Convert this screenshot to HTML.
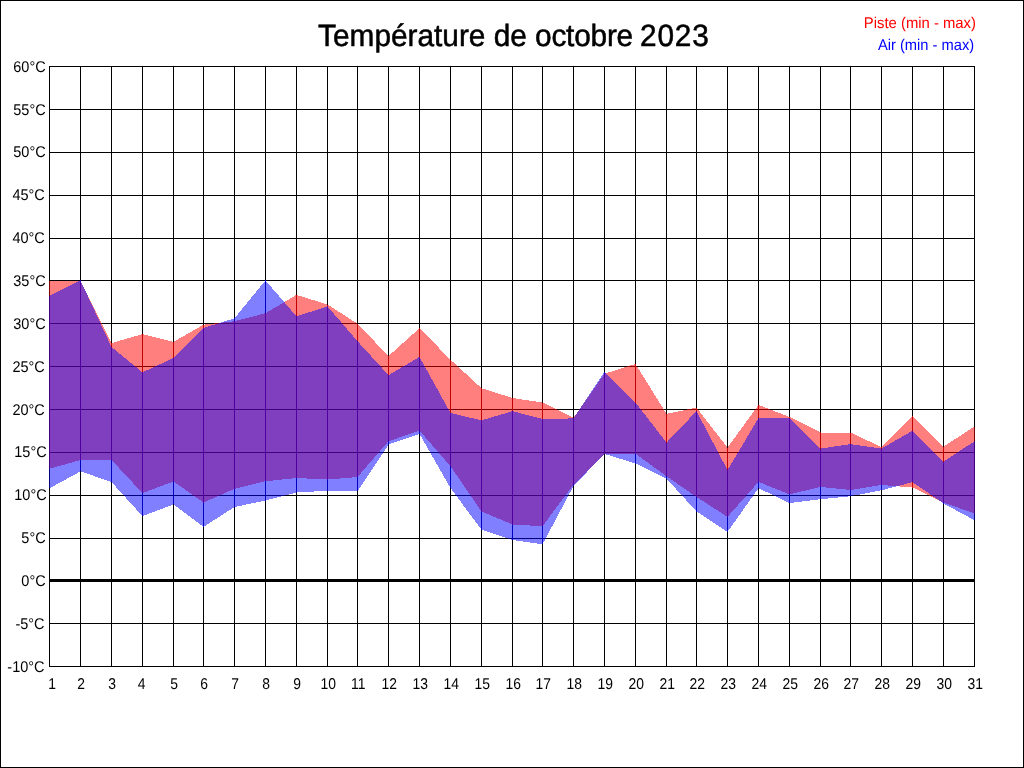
<!DOCTYPE html>
<html lang="fr">
<head>
<meta charset="utf-8">
<title>Température de octobre 2023</title>
<style>
html,body{margin:0;padding:0;background:#fff;}
body{width:1024px;height:768px;overflow:hidden;}
svg{display:block;}
text{font-family:"Liberation Sans",sans-serif;text-rendering:geometricPrecision;}
.yl{font-size:14.5px;fill:#000;text-anchor:end;}
.xl{font-size:13.9px;fill:#000;text-anchor:middle;}
.lg{font-size:14.85px;text-anchor:end;}
.tt{font-size:29.8px;fill:#000;text-anchor:start;stroke:#000;stroke-width:0.5px;}
</style>
</head>
<body>
<svg width="1024" height="768" viewBox="0 0 1024 768">
<rect x="0" y="0" width="1024" height="768" fill="#fff"/>
<g shape-rendering="crispEdges">
<rect x="0.5" y="0.5" width="1023" height="767" fill="none" stroke="#000" stroke-width="1"/>
<g fill="#000">
<rect x="49" y="66" width="1" height="601"/>
<rect x="80" y="66" width="1" height="601"/>
<rect x="111" y="66" width="1" height="601"/>
<rect x="142" y="66" width="1" height="601"/>
<rect x="173" y="66" width="1" height="601"/>
<rect x="203" y="66" width="1" height="601"/>
<rect x="234" y="66" width="1" height="601"/>
<rect x="265" y="66" width="1" height="601"/>
<rect x="296" y="66" width="1" height="601"/>
<rect x="327" y="66" width="1" height="601"/>
<rect x="357" y="66" width="1" height="601"/>
<rect x="388" y="66" width="1" height="601"/>
<rect x="419" y="66" width="1" height="601"/>
<rect x="450" y="66" width="1" height="601"/>
<rect x="481" y="66" width="1" height="601"/>
<rect x="512" y="66" width="1" height="601"/>
<rect x="542" y="66" width="1" height="601"/>
<rect x="573" y="66" width="1" height="601"/>
<rect x="604" y="66" width="1" height="601"/>
<rect x="635" y="66" width="1" height="601"/>
<rect x="666" y="66" width="1" height="601"/>
<rect x="696" y="66" width="1" height="601"/>
<rect x="727" y="66" width="1" height="601"/>
<rect x="758" y="66" width="1" height="601"/>
<rect x="789" y="66" width="1" height="601"/>
<rect x="820" y="66" width="1" height="601"/>
<rect x="850" y="66" width="1" height="601"/>
<rect x="881" y="66" width="1" height="601"/>
<rect x="912" y="66" width="1" height="601"/>
<rect x="943" y="66" width="1" height="601"/>
<rect x="974" y="66" width="1" height="601"/>
<rect x="49" y="66" width="926" height="1"/>
<rect x="49" y="109" width="926" height="1"/>
<rect x="49" y="152" width="926" height="1"/>
<rect x="49" y="195" width="926" height="1"/>
<rect x="49" y="238" width="926" height="1"/>
<rect x="49" y="280" width="926" height="1"/>
<rect x="49" y="323" width="926" height="1"/>
<rect x="49" y="366" width="926" height="1"/>
<rect x="49" y="409" width="926" height="1"/>
<rect x="49" y="452" width="926" height="1"/>
<rect x="49" y="495" width="926" height="1"/>
<rect x="49" y="538" width="926" height="1"/>
<rect x="49" y="579" width="926" height="3"/>
<rect x="49" y="623" width="926" height="1"/>
<rect x="49" y="666" width="926" height="1"/>
</g>
<polygon points="49,280.5 49.5,280.5 80.5,281 81,281 81,460 80.5,460 49.5,468.75 49,468.75" fill="#ff0000" fill-opacity="0.5"/>
<polygon points="49,295.75 49.5,295.75 80.5,280.4 81,280.4 81,471.4 80.5,471.4 49.5,488.25 49,488.25" fill="#0000ff" fill-opacity="0.5"/>
<polygon points="80,281 80.5,281 111.5,343.1 112,343.1 112,460 111.5,460 80.5,460 80,460" fill="#ff0000" fill-opacity="0.5"/>
<polygon points="80,280.4 80.5,280.4 111.5,347 112,347 112,482 111.5,482 80.5,471.4 80,471.4" fill="#0000ff" fill-opacity="0.5"/>
<polygon points="111,343.1 111.5,343.1 142.5,334.15 143,334.15 143,493.1 142.5,493.1 111.5,460 111,460" fill="#ff0000" fill-opacity="0.5"/>
<polygon points="111,347 111.5,347 142.5,372.35 143,372.35 143,516.1 142.5,516.1 111.5,482 111,482" fill="#0000ff" fill-opacity="0.5"/>
<polygon points="142,334.15 142.5,334.15 173.5,341.85 174,341.85 174,481.4 173.5,481.4 142.5,493.1 142,493.1" fill="#ff0000" fill-opacity="0.5"/>
<polygon points="142,372.35 142.5,372.35 173.5,358 174,358 174,504.4 173.5,504.4 142.5,516.1 142,516.1" fill="#0000ff" fill-opacity="0.5"/>
<polygon points="173,341.85 173.5,341.85 203.5,324.7 204,324.7 204,502.6 203.5,502.6 173.5,481.4 173,481.4" fill="#ff0000" fill-opacity="0.5"/>
<polygon points="173,358 173.5,358 203.5,328 204,328 204,526.85 203.5,526.85 173.5,504.4 173,504.4" fill="#0000ff" fill-opacity="0.5"/>
<polygon points="203,324.7 203.5,324.7 234.5,321.2 235,321.2 235,488.75 234.5,488.75 203.5,502.6 203,502.6" fill="#ff0000" fill-opacity="0.5"/>
<polygon points="203,328 203.5,328 234.5,318.3 235,318.3 235,507 234.5,507 203.5,526.85 203,526.85" fill="#0000ff" fill-opacity="0.5"/>
<polygon points="234,321.2 234.5,321.2 265.5,313.2 266,313.2 266,481.25 265.5,481.25 234.5,488.75 234,488.75" fill="#ff0000" fill-opacity="0.5"/>
<polygon points="234,318.3 234.5,318.3 265.5,280.4 266,280.4 266,500.5 265.5,500.5 234.5,507 234,507" fill="#0000ff" fill-opacity="0.5"/>
<polygon points="265,313.2 265.5,313.2 296.5,294.9 297,294.9 297,478 296.5,478 265.5,481.25 265,481.25" fill="#ff0000" fill-opacity="0.5"/>
<polygon points="265,280.4 265.5,280.4 296.5,316.35 297,316.35 297,492.5 296.5,492.5 265.5,500.5 265,500.5" fill="#0000ff" fill-opacity="0.5"/>
<polygon points="296,294.9 296.5,294.9 327.5,304.5 328,304.5 328,479.5 327.5,479.5 296.5,478 296,478" fill="#ff0000" fill-opacity="0.5"/>
<polygon points="296,316.35 296.5,316.35 327.5,306.4 328,306.4 328,490.75 327.5,490.75 296.5,492.5 296,492.5" fill="#0000ff" fill-opacity="0.5"/>
<polygon points="327,304.5 327.5,304.5 357.5,323.75 358,323.75 358,477 357.5,477 327.5,479.5 327,479.5" fill="#ff0000" fill-opacity="0.5"/>
<polygon points="327,306.4 327.5,306.4 357.5,341.25 358,341.25 358,491.25 357.5,491.25 327.5,490.75 327,490.75" fill="#0000ff" fill-opacity="0.5"/>
<polygon points="357,323.75 357.5,323.75 388.5,356.1 389,356.1 389,441.25 388.5,441.25 357.5,477 357,477" fill="#ff0000" fill-opacity="0.5"/>
<polygon points="357,341.25 357.5,341.25 388.5,375.1 389,375.1 389,444.5 388.5,444.5 357.5,491.25 357,491.25" fill="#0000ff" fill-opacity="0.5"/>
<polygon points="388,356.1 388.5,356.1 419.5,328.15 420,328.15 420,430.65 419.5,430.65 388.5,441.25 388,441.25" fill="#ff0000" fill-opacity="0.5"/>
<polygon points="388,375.1 388.5,375.1 419.5,356.9 420,356.9 420,433.9 419.5,433.9 388.5,444.5 388,444.5" fill="#0000ff" fill-opacity="0.5"/>
<polygon points="419,328.15 419.5,328.15 450.5,359.7 451,359.7 451,466.25 450.5,466.25 419.5,430.65 419,430.65" fill="#ff0000" fill-opacity="0.5"/>
<polygon points="419,356.9 419.5,356.9 450.5,413 451,413 451,488 450.5,488 419.5,433.9 419,433.9" fill="#0000ff" fill-opacity="0.5"/>
<polygon points="450,359.7 450.5,359.7 481.5,388.2 482,388.2 482,511.5 481.5,511.5 450.5,466.25 450,466.25" fill="#ff0000" fill-opacity="0.5"/>
<polygon points="450,413 450.5,413 481.5,420.35 482,420.35 482,529.75 481.5,529.75 450.5,488 450,488" fill="#0000ff" fill-opacity="0.5"/>
<polygon points="481,388.2 481.5,388.2 512.5,398 513,398 513,524.5 512.5,524.5 481.5,511.5 481,511.5" fill="#ff0000" fill-opacity="0.5"/>
<polygon points="481,420.35 481.5,420.35 512.5,411.15 513,411.15 513,540 512.5,540 481.5,529.75 481,529.75" fill="#0000ff" fill-opacity="0.5"/>
<polygon points="512,398 512.5,398 542.5,402.5 543,402.5 543,526.25 542.5,526.25 512.5,524.5 512,524.5" fill="#ff0000" fill-opacity="0.5"/>
<polygon points="512,411.15 512.5,411.15 542.5,419 543,419 543,544.35 542.5,544.35 512.5,540 512,540" fill="#0000ff" fill-opacity="0.5"/>
<polygon points="542,402.5 542.5,402.5 573.5,417.9 574,417.9 574,484.5 573.5,484.5 542.5,526.25 542,526.25" fill="#ff0000" fill-opacity="0.5"/>
<polygon points="542,419 542.5,419 573.5,418.4 574,418.4 574,486 573.5,486 542.5,544.35 542,544.35" fill="#0000ff" fill-opacity="0.5"/>
<polygon points="573,417.9 573.5,417.9 604.5,373.75 605,373.75 605,453.5 604.5,453.5 573.5,484.5 573,484.5" fill="#ff0000" fill-opacity="0.5"/>
<polygon points="573,418.4 573.5,418.4 604.5,371.9 605,371.9 605,453.9 604.5,453.9 573.5,486 573,486" fill="#0000ff" fill-opacity="0.5"/>
<polygon points="604,373.75 604.5,373.75 635.5,363.9 636,363.9 636,453.75 635.5,453.75 604.5,453.5 604,453.5" fill="#ff0000" fill-opacity="0.5"/>
<polygon points="604,371.9 604.5,371.9 635.5,402.5 636,402.5 636,463.5 635.5,463.5 604.5,453.9 604,453.9" fill="#0000ff" fill-opacity="0.5"/>
<polygon points="635,363.9 635.5,363.9 666.5,413.85 667,413.85 667,476.25 666.5,476.25 635.5,453.75 635,453.75" fill="#ff0000" fill-opacity="0.5"/>
<polygon points="635,402.5 635.5,402.5 666.5,442.6 667,442.6 667,478.5 666.5,478.5 635.5,463.5 635,463.5" fill="#0000ff" fill-opacity="0.5"/>
<polygon points="666,413.85 666.5,413.85 696.5,407.6 697,407.6 697,497 696.5,497 666.5,476.25 666,476.25" fill="#ff0000" fill-opacity="0.5"/>
<polygon points="666,442.6 666.5,442.6 696.5,411.15 697,411.15 697,511.5 696.5,511.5 666.5,478.5 666,478.5" fill="#0000ff" fill-opacity="0.5"/>
<polygon points="696,407.6 696.5,407.6 727.5,447.6 728,447.6 728,516.85 727.5,516.85 696.5,497 696,497" fill="#ff0000" fill-opacity="0.5"/>
<polygon points="696,411.15 696.5,411.15 727.5,470.1 728,470.1 728,531.85 727.5,531.85 696.5,511.5 696,511.5" fill="#0000ff" fill-opacity="0.5"/>
<polygon points="727,447.6 727.5,447.6 758.5,404.9 759,404.9 759,481.9 758.5,481.9 727.5,516.85 727,516.85" fill="#ff0000" fill-opacity="0.5"/>
<polygon points="727,470.1 727.5,470.1 758.5,418 759,418 759,488.15 758.5,488.15 727.5,531.85 727,531.85" fill="#0000ff" fill-opacity="0.5"/>
<polygon points="758,404.9 758.5,404.9 789.5,417 790,417 790,494.35 789.5,494.35 758.5,481.9 758,481.9" fill="#ff0000" fill-opacity="0.5"/>
<polygon points="758,418 758.5,418 789.5,418.25 790,418.25 790,503.1 789.5,503.1 758.5,488.15 758,488.15" fill="#0000ff" fill-opacity="0.5"/>
<polygon points="789,417 789.5,417 820.5,432.5 821,432.5 821,487 820.5,487 789.5,494.35 789,494.35" fill="#ff0000" fill-opacity="0.5"/>
<polygon points="789,418.25 789.5,418.25 820.5,448.6 821,448.6 821,499.25 820.5,499.25 789.5,503.1 789,503.1" fill="#0000ff" fill-opacity="0.5"/>
<polygon points="820,432.5 820.5,432.5 850.5,432.5 851,432.5 851,490 850.5,490 820.5,487 820,487" fill="#ff0000" fill-opacity="0.5"/>
<polygon points="820,448.6 820.5,448.6 850.5,444.1 851,444.1 851,496.25 850.5,496.25 820.5,499.25 820,499.25" fill="#0000ff" fill-opacity="0.5"/>
<polygon points="850,432.5 850.5,432.5 881.5,447.1 882,447.1 882,485 881.5,485 850.5,490 850,490" fill="#ff0000" fill-opacity="0.5"/>
<polygon points="850,444.1 850.5,444.1 881.5,448.6 882,448.6 882,490.3 881.5,490.3 850.5,496.25 850,496.25" fill="#0000ff" fill-opacity="0.5"/>
<polygon points="881,447.1 881.5,447.1 912.5,415.9 913,415.9 913,487.5 912.5,487.5 881.5,485 881,485" fill="#ff0000" fill-opacity="0.5"/>
<polygon points="881,448.6 881.5,448.6 912.5,430.65 913,430.65 913,482.15 912.5,482.15 881.5,490.3 881,490.3" fill="#0000ff" fill-opacity="0.5"/>
<polygon points="912,415.9 912.5,415.9 943.5,446.6 944,446.6 944,502.5 943.5,502.5 912.5,487.5 912,487.5" fill="#ff0000" fill-opacity="0.5"/>
<polygon points="912,430.65 912.5,430.65 943.5,461.6 944,461.6 944,503.5 943.5,503.5 912.5,482.15 912,482.15" fill="#0000ff" fill-opacity="0.5"/>
<polygon points="943,446.6 943.5,446.6 974.5,426.5 975,426.5 975,513.5 974.5,513.5 943.5,502.5 943,502.5" fill="#ff0000" fill-opacity="0.5"/>
<polygon points="943,461.6 943.5,461.6 974.5,441.25 975,441.25 975,520.25 974.5,520.25 943.5,503.5 943,503.5" fill="#0000ff" fill-opacity="0.5"/>
</g>
<text class="yl" transform="translate(45.7,72) scale(1,1.075)">60°C</text>
<text class="yl" transform="translate(45.7,115) scale(1,1.075)">55°C</text>
<text class="yl" transform="translate(45.7,157) scale(1,1.075)">50°C</text>
<text class="yl" transform="translate(44.8,200) scale(1,1.075)">45°C</text>
<text class="yl" transform="translate(44.8,243) scale(1,1.075)">40°C</text>
<text class="yl" transform="translate(45.7,286) scale(1,1.075)">35°C</text>
<text class="yl" transform="translate(45.7,329) scale(1,1.075)">30°C</text>
<text class="yl" transform="translate(44.8,372) scale(1,1.075)">25°C</text>
<text class="yl" transform="translate(44.8,415) scale(1,1.075)">20°C</text>
<text class="yl" transform="translate(46.7,457) scale(1,1.075)">15°C</text>
<text class="yl" transform="translate(46.7,500) scale(1,1.075)">10°C</text>
<text class="yl" transform="translate(45.7,543) scale(1,1.075)">5°C</text>
<text class="yl" transform="translate(45.7,586) scale(1,1.075)">0°C</text>
<text class="yl" transform="translate(44.6,629) scale(1,1.075)">-5°C</text>
<text class="yl" transform="translate(44.6,672) scale(1,1.075)">-10°C</text>
<text class="xl" transform="translate(52,689.0) scale(1,1.123)">1</text>
<text class="xl" transform="translate(81.2,689.0) scale(1,1.123)">2</text>
<text class="xl" transform="translate(112.2,689.0) scale(1,1.123)">3</text>
<text class="xl" transform="translate(141.5,689.0) scale(1,1.123)">4</text>
<text class="xl" transform="translate(174.2,689.0) scale(1,1.123)">5</text>
<text class="xl" transform="translate(204.2,689.0) scale(1,1.123)">6</text>
<text class="xl" transform="translate(235.2,689.0) scale(1,1.123)">7</text>
<text class="xl" transform="translate(266.2,689.0) scale(1,1.123)">8</text>
<text class="xl" transform="translate(297.2,689.0) scale(1,1.123)">9</text>
<text class="xl" transform="translate(328.2,689.0) scale(1,1.123)">10</text>
<text class="xl" transform="translate(358.2,689.0) scale(1,1.123)">11</text>
<text class="xl" transform="translate(389.2,689.0) scale(1,1.123)">12</text>
<text class="xl" transform="translate(420.2,689.0) scale(1,1.123)">13</text>
<text class="xl" transform="translate(451.2,689.0) scale(1,1.123)">14</text>
<text class="xl" transform="translate(482.2,689.0) scale(1,1.123)">15</text>
<text class="xl" transform="translate(513.2,689.0) scale(1,1.123)">16</text>
<text class="xl" transform="translate(543.2,689.0) scale(1,1.123)">17</text>
<text class="xl" transform="translate(574.2,689.0) scale(1,1.123)">18</text>
<text class="xl" transform="translate(605.2,689.0) scale(1,1.123)">19</text>
<text class="xl" transform="translate(636.2,689.0) scale(1,1.123)">20</text>
<text class="xl" transform="translate(667.2,689.0) scale(1,1.123)">21</text>
<text class="xl" transform="translate(697.2,689.0) scale(1,1.123)">22</text>
<text class="xl" transform="translate(728.2,689.0) scale(1,1.123)">23</text>
<text class="xl" transform="translate(759.2,689.0) scale(1,1.123)">24</text>
<text class="xl" transform="translate(790.2,689.0) scale(1,1.123)">25</text>
<text class="xl" transform="translate(821.2,689.0) scale(1,1.123)">26</text>
<text class="xl" transform="translate(851.2,689.0) scale(1,1.123)">27</text>
<text class="xl" transform="translate(882.2,689.0) scale(1,1.123)">28</text>
<text class="xl" transform="translate(913.2,689.0) scale(1,1.123)">29</text>
<text class="xl" transform="translate(944.2,689.0) scale(1,1.123)">30</text>
<text class="xl" transform="translate(975.2,689.0) scale(1,1.123)">31</text>
<text class="tt" transform="translate(318.1,45.7) scale(1,1.035)">Température de <tspan letter-spacing="-0.22">octobre</tspan> <tspan dx="-1.1" letter-spacing="0.8">2023</tspan></text>
<text class="lg" transform="translate(976,27.7) scale(1,1.05)" fill="#ff0000">Piste (min - max)</text>
<text class="lg" transform="translate(974.2,50.1) scale(1,1.0605)" fill="#0000ff" style="font-size:14.7px">Air (min - max)</text>
</svg>
</body>
</html>
